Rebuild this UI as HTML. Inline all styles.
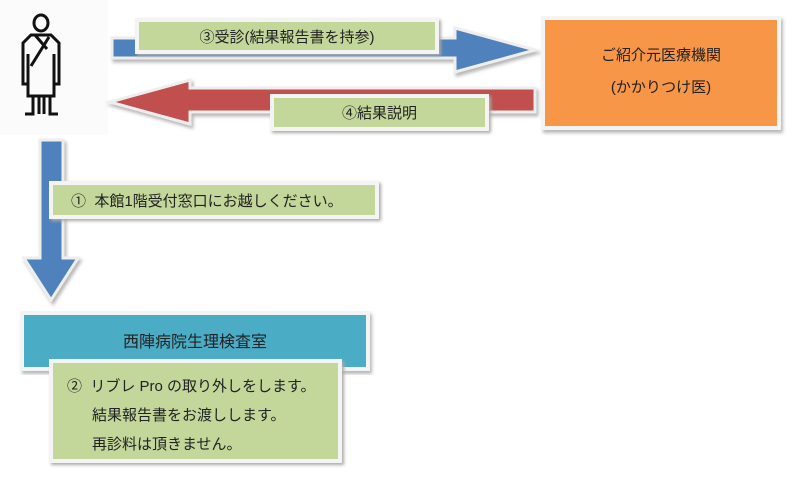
<!DOCTYPE html>
<html><head><meta charset="utf-8"><style>
body{margin:0;width:812px;height:484px;background:#fff;position:relative;overflow:hidden;font-family:"Liberation Sans","Noto Sans CJK JP",sans-serif;color:#222}
.g{position:absolute;background:#c4d79b;border:4px solid #f4f4f4;box-shadow:2px 2px 3px #aaa;font-size:15px;box-sizing:border-box}
.c{display:flex;align-items:center;justify-content:center}
</style></head><body>
<svg width="812" height="484" style="position:absolute;left:0;top:0">
<defs><filter id="s"><feDropShadow dx="2" dy="3" stdDeviation="1.5" flood-color="#888" flood-opacity="0.6"/></filter></defs>
<rect x="0" y="0" width="108" height="135" fill="#fbfbfb"/>
<g fill="none" stroke="#111" stroke-width="3">
<ellipse cx="41" cy="23" rx="7" ry="8"/>
<path d="M31 35 L51 35 L59 43 L59 84 L54 84 L54 96 L28 96 L28 84 L23 84 L23 43 Z"/>
<path d="M35 35 L47 49 M49 37 L31 66 M28 54 L28 84 M54 54 L54 84"/>
<path d="M33 96 L33 114 L25 114 M39 96 L39 114 M44 96 L44 114 M50 96 L50 114 L58 114"/>
</g>
<g filter="url(#s)">
<polygon points="112,38 455,38 455,28 535,50 455,72 455,58 112,58" fill="#4f81bd" stroke="#eee" stroke-width="3"/>
<polygon points="535,88 190,88 190,80 110,102 190,124 190,112 535,112" fill="#c0504d" stroke="#eee" stroke-width="3"/>
<polygon points="40,140 63,140 63,258 78,258 51,300 24,258 40,258" fill="#4f81bd" stroke="#eee" stroke-width="3"/>
</g>
<rect x="543" y="18" width="236" height="110" fill="#f79646" stroke="#f4f4f4" stroke-width="4" filter="url(#s)"/>
<rect x="22" y="313" width="346" height="56" fill="#4bacc6" stroke="#f4f4f4" stroke-width="4" filter="url(#s)"/>
</svg>
<div class="g c" style="left:135px;top:18px;width:304px;height:36px">③受診(結果報告書を持参)</div>
<div class="g c" style="left:270px;top:94px;width:219px;height:37px">④結果説明</div>
<div style="position:absolute;left:543px;top:40px;width:236px;text-align:center;font-size:15px;line-height:32px">ご紹介元医療機関<br>(かかりつけ医)</div>
<div class="g" style="left:49px;top:181px;width:330px;height:38px;padding:5px 0 0 18px">①&nbsp; 本館1階受付窓口にお越しください。</div>
<div style="position:absolute;left:22px;top:328px;width:346px;text-align:center;font-size:16px">西陣病院生理検査室</div>
<div class="g" style="left:49px;top:359px;width:293px;height:104px;padding:9px 0 0 14px;line-height:29px">②&nbsp; リブレ Pro の取り外しをします。<br>&nbsp;&nbsp;&nbsp;&nbsp;&nbsp; 結果報告書をお渡しします。<br>&nbsp;&nbsp;&nbsp;&nbsp;&nbsp; 再診料は頂きません。</div>
</body></html>
